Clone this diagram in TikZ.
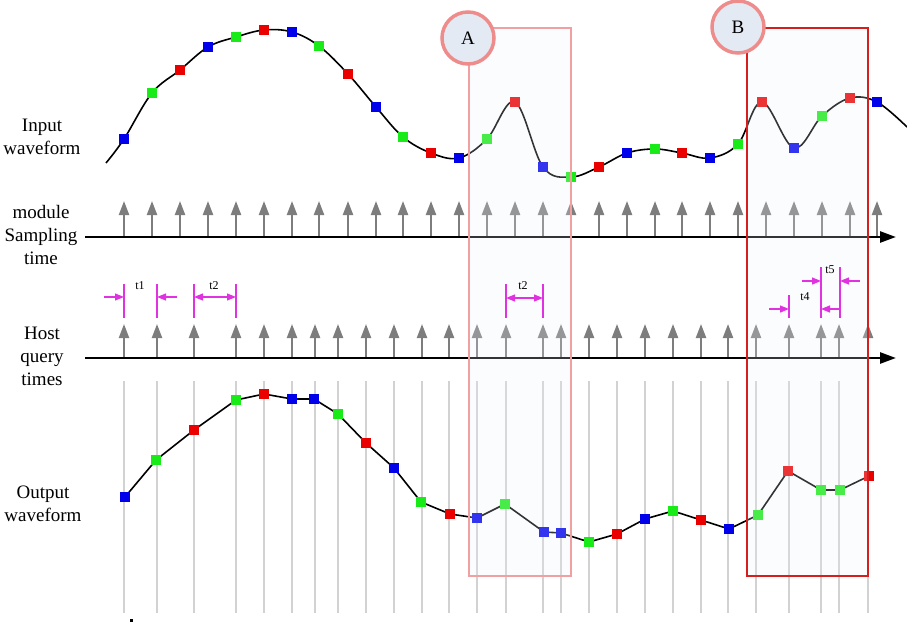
\documentclass[tikz,border=0pt]{standalone}
\usepackage{fontspec}
\setmainfont{Liberation Serif}
\usetikzlibrary{arrows.meta}
\definecolor{mblue}{RGB}{0,0,235}
\definecolor{mgreen}{RGB}{25,235,25}
\definecolor{mred}{RGB}{235,0,0}
\definecolor{arrgray}{RGB}{125,125,125}
\definecolor{vgray}{RGB}{210,210,210}
\definecolor{dimpink}{RGB}{225,50,225}
\definecolor{boxfill}{RGB}{236,241,248}
\definecolor{circfill}{RGB}{228,234,244}
\definecolor{circline}{RGB}{238,140,140}
\definecolor{boxAline}{RGB}{240,160,160}
\definecolor{boxBline}{RGB}{215,30,30}
\begin{document}
\begin{tikzpicture}[x=1pt,y=-1pt,
  sq/.style={draw=none,minimum size=10pt,inner sep=0pt,fill=#1},
  tickarrow/.style={arrgray,line width=2.2pt,-{Triangle[length=14pt,width=10pt]}},
  axisline/.style={black,line width=2.6pt,-{Triangle[length=16pt,width=11pt]}},
  vline/.style={vgray,line width=1.1pt},
  dimline/.style={dimpink,line width=1.2pt},
  dimarr/.style={dimpink,line width=1.2pt,-{Triangle[length=9pt,width=7pt]}},
  dimlab/.style={font=\fontsize{12}{14}\selectfont,inner sep=0pt},
  rowlab/.style={align=center,font=\fontsize{19}{23}\selectfont,inner sep=0pt},
  marker/.style={circle,draw=circline,line width=3.5pt,fill=circfill,minimum size=52pt,inner sep=0pt,font=\fontsize{19}{22}\selectfont},
  wave/.style={black,line width=1.6pt}
]
\useasboundingbox (0,0) rectangle (907,623);

% vertical gray guide lines
\foreach \x in {124,157,194,236,264,292,315,338,366,394,422,449,477,506,543,561,589,617,645,673,701,728,756,789,821,839,868}
  \draw[vline] (\x,381) -- (\x,613);

% axes
\coordinate (ms0) at (85,237); \coordinate (ms1) at (896,237);
\coordinate (hq0) at (85,358); \coordinate (hq1) at (896,358);
\draw[axisline] (ms0) -- (ms1);
\draw[axisline] (hq0) -- (hq1);

% module sampling arrows
\foreach \x in {124,152,180,208,236,264,292,319,348,376,403,431,459,487,515,543,571,599,627,655,682,710,738,766,794,822,850,877}
  \draw[tickarrow] (\x,236) -- (\x,201);

% host query arrows
\foreach \x in {124,157,194,236,264,292,315,338,366,394,422,449,477,506,543,561,589,617,645,673,701,728,756,789,821,839,868}
  \draw[tickarrow] (\x,357) -- (\x,324);

% input waveform
\foreach \n/\x/\y in {1/124/139,2/152/93,3/180/70,4/208/47,5/236/37,6/264/30,7/292/32,8/319/46,9/348/74,10/376/107,11/403/137,12/431/153,13/459/158,14/487/139,15/515/102,16/543/167,17/571/177,18/599/167,19/627/153,20/655/149,21/682/153,22/710/158,23/738/144,24/762/102,25/794/148,26/822/116,27/850/98,28/877/102}
  \coordinate (i\n) at (\x,\y);
\coordinate (istart) at (106,163);
\coordinate (iend) at (907,127);
\draw[wave] plot[smooth,tension=0.6] coordinates {(istart) (i1) (i2) (i3) (i4) (i5) (i6) (i7) (i8) (i9) (i10) (i11) (i12) (i13) (i14) (i15) (i16) (i17) (i18) (i19) (i20) (i21) (i22) (i23) (i24) (i25) (i26) (i27) (i28) (iend)};
\foreach \n/\c in {1/mblue,2/mgreen,3/mred,4/mblue,5/mgreen,6/mred,7/mblue,8/mgreen,9/mred,10/mblue,11/mgreen,12/mred,13/mblue,14/mgreen,15/mred,16/mblue,17/mgreen,18/mred,19/mblue,20/mgreen,21/mred,22/mblue,23/mgreen,24/mred,25/mblue,26/mgreen,27/mred,28/mblue}
  \node[sq=\c] (si\n) at (i\n) {};

% output waveform
\foreach \n/\x/\y in {1/125/497,2/156/460,3/194/430,4/236/400,5/264/394,6/292/399,7/314/399,8/338/414,9/366/443,10/394/468,11/421/502,12/450/514,13/477/518,14/505/504,15/544/532,16/561/533,17/589/542,18/617/534,19/645/519,20/673/511,21/701/520,22/729/529,23/758/515,24/788/471,25/821/490,26/840/490,27/869/476}
  \coordinate (o\n) at (\x,\y);
\draw[wave] (o1) -- (o2) -- (o3) -- (o4) -- (o5) -- (o6) -- (o7) -- (o8) -- (o9) -- (o10) -- (o11) -- (o12) -- (o13) -- (o14) -- (o15) -- (o16) -- (o17) -- (o18) -- (o19) -- (o20) -- (o21) -- (o22) -- (o23) -- (o24) -- (o25) -- (o26) -- (o27);
\foreach \n/\c in {1/mblue,2/mgreen,3/mred,4/mgreen,5/mred,6/mblue,7/mblue,8/mgreen,9/mred,10/mblue,11/mgreen,12/mred,13/mblue,14/mgreen,15/mblue,16/mblue,17/mgreen,18/mred,19/mblue,20/mgreen,21/mred,22/mblue,23/mgreen,24/mred,25/mgreen,26/mgreen,27/mred}
  \node[sq=\c] (so\n) at (o\n) {};

% highlight boxes
\fill[boxfill,opacity=0.22] (469,28) rectangle (571,576);
\fill[boxfill,opacity=0.22] (747,28) rectangle (868,576);
\draw[boxAline,line width=1.8pt] (469,28) rectangle (571,576);
\draw[boxBline,line width=2.2pt] (747,28) rectangle (868,576);
\node[marker] (A) at (468,38) {A};
\node[marker] (B) at (738,27) {B};

% dimension markers
\draw[dimline] (124,284) -- (124,318);
\draw[dimline] (157,284) -- (157,318);
\draw[dimarr] (104,297) -- (124,297);
\draw[dimarr] (177,297) -- (157,297);
\node[dimlab] (t1) at (140,286) {t1};
\draw[dimline] (194,284) -- (194,318);
\draw[dimline] (236,284) -- (236,318);
\draw[dimline,{Triangle[length=9pt,width=7pt]}-{Triangle[length=9pt,width=7pt]}] (194,297) -- (236,297);
\node[dimlab] (t2a) at (214,286) {t2};
\draw[dimline] (506,284) -- (506,318);
\draw[dimline] (543,284) -- (543,318);
\draw[dimline,{Triangle[length=9pt,width=7pt]}-{Triangle[length=9pt,width=7pt]}] (506,298) -- (543,298);
\node[dimlab] (t2b) at (523,286) {t2};
\draw[dimline] (789,295) -- (789,318);
\draw[dimarr] (769,309) -- (789,309);
\node[dimlab] (t4) at (805,297) {t4};
\draw[dimline] (821,267) -- (821,318);
\draw[dimline] (840,267) -- (840,318);
\draw[dimarr] (802,281) -- (821,281);
\draw[dimarr] (860,281) -- (840,281);
\draw[dimarr] (840,309) -- (821,309);
\node[dimlab] (t5) at (830,270) {t5};

% row labels
\node[rowlab] (lin) at (42,137) {Input\\waveform};
\node[rowlab] (lms) at (41,235) {module\\Sampling\\time};
\node[rowlab] (lhq) at (42,356) {Host\\query\\times};
\node[rowlab] (lout) at (43,504) {Output\\waveform};

% small mark at bottom
\fill[black] (130,619) rectangle (133,622);
\end{tikzpicture}
\end{document}
